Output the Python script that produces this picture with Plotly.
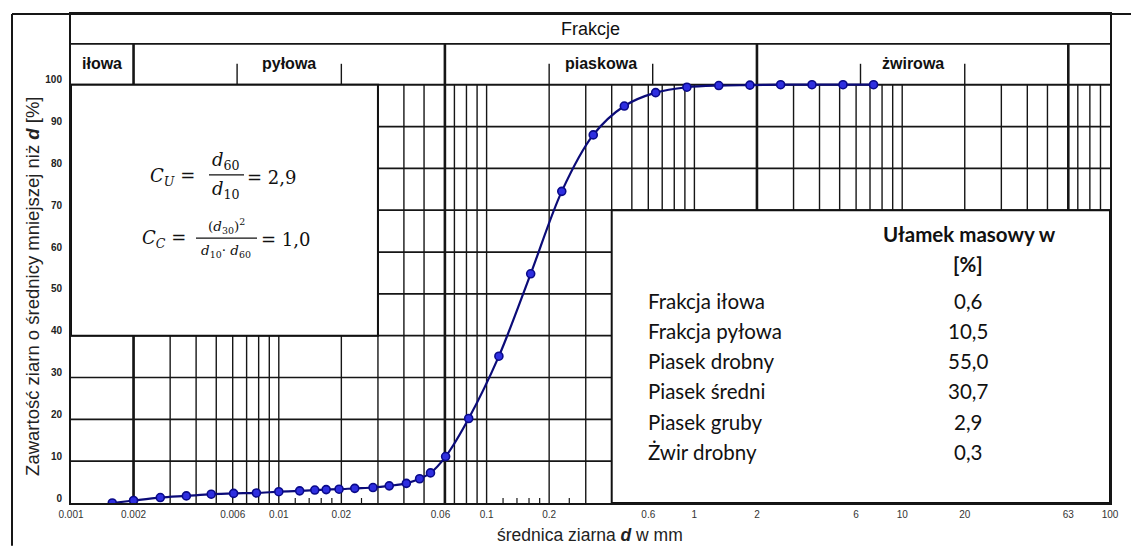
import math
import plotly.graph_objects as go

# Grain-size distribution (cumulative percent passing vs. grain diameter)
grain_d_mm = [0.00158, 0.002, 0.00269, 0.00359, 0.00473, 0.00606, 0.0078, 0.01,
              0.0126, 0.0149, 0.0169, 0.0195, 0.0232, 0.0284, 0.0340, 0.0411,
              0.0476, 0.0537, 0.0635, 0.082, 0.1146, 0.163, 0.230, 0.326,
              0.460, 0.651, 0.920, 1.31, 1.85, 2.60, 3.68, 5.19, 7.28]
passing_pct = [0.0, 0.6, 1.3, 1.7, 2.1, 2.3, 2.4, 2.7,
               2.9, 3.1, 3.2, 3.3, 3.5, 3.7, 4.1, 4.7,
               5.8, 7.2, 11.1, 20.2, 35.1, 54.8, 74.5, 88.0,
               94.9, 98.1, 99.4, 99.8, 99.9, 100.0, 100.0, 100.0, 100.0]

x_tick_vals = [0.001, 0.002, 0.006, 0.01, 0.02, 0.06, 0.1, 0.2, 0.6, 1, 2, 6, 10, 20, 63, 100]
x_tick_text = ["0.001", "0.002", "0.006", "0.01", "0.02", "0.06", "0.1", "0.2",
               "0.6", "1", "2", "6", "10", "20", "63", "100"]
y_tick_vals = [0, 10, 20, 30, 40, 50, 60, 70, 80, 90, 100]

# Fraction header
fraction_names = ["iłowa", "pyłowa", "piaskowa", "żwirowa"]
fraction_bounds = [0.002, 0.063, 2, 63]
subfraction_bounds = [0.0063, 0.02, 0.2, 0.63, 6.3, 20]
fraction_label_spans = [(0.001, 0.002), (0.0063, 0.02), (0.2, 0.63), (6.3, 20)]
minor_marks = [0.012, 0.014, 0.016, 0.018, 0.025, 0.12, 0.14, 0.16, 0.18, 0.25]

# Mass fractions table
table_rows = ["Frakcja iłowa", "Frakcja pyłowa", "Piasek drobny",
              "Piasek średni", "Piasek gruby", "Żwir drobny"]
table_values = ["0,6", "10,5", "55,0", "30,7", "2,9", "0,3"]

# ---------------------------------------------------------------- geometry
W, H = 1131, 546
ML, MR, MT, MB = 71, 21, 12, 43
PW, PH = W - ML - MR, H - MT - MB
PX_PER_PCT = 4.2
Y_TOP = PH / PX_PER_PCT          # header sits above the 100 % line
ROW_SPLIT = 100 + 41 / PX_PER_PCT
SUBTICK_TOP = 100 + 21 / PX_PER_PCT


def px(x):
    return (x - ML) / PW


def py(y):
    return (H - MB - y) / PH


INK = "#161616"
shapes = []


def vline(x, y0, y1, w=1.4, color=INK):
    shapes.append(dict(type="line", xref="x", yref="y", x0=x, x1=x, y0=y0, y1=y1,
                       line=dict(color=color, width=w), layer="below"))


def hline(y, x0=0.001, x1=100, w=1.6, color=INK):
    shapes.append(dict(type="line", xref="x", yref="y", x0=x0, x1=x1, y0=y, y1=y,
                       line=dict(color=color, width=w), layer="below"))


# logarithmic grid
for k in range(-3, 2):
    for m in range(1, 10):
        v = m * 10 ** k
        if m == 1 and k == -3:
            continue
        if abs(v - 0.06) < 1e-9 or abs(v - 60) < 1e-9:
            continue
        vline(v, 0, 100)
for b in fraction_bounds:
    vline(b, 0, ROW_SPLIT, w=2.6)
for v in y_tick_vals[1:-1]:
    hline(v, w=1.7)
hline(100, w=2)
hline(ROW_SPLIT, w=1.6)
for b in subfraction_bounds:
    vline(b, 100, SUBTICK_TOP, w=1.4)
for v in minor_marks:
    vline(v, 0, 5 / PX_PER_PCT, w=1.2)

# white boxes
box_line = dict(color="#111111", width=2)
shapes.append(dict(type="rect", xref="x", yref="y", x0=0.001, x1=0.03, y0=40, y1=100,
                   fillcolor="white", line=box_line, layer="below"))
shapes.append(dict(type="rect", xref="x", yref="y", x0=0.4, x1=100, y0=0, y1=70,
                   fillcolor="white", line=box_line, layer="below"))

# outer frame
shapes.append(dict(type="line", xref="paper", yref="paper", x0=px(12), x1=px(W), y0=1, y1=1,
                   line=dict(color=INK, width=2), layer="above"))
shapes.append(dict(type="line", xref="paper", yref="paper", x0=px(12), x1=px(12), y0=1, y1=py(H),
                   line=dict(color=INK, width=2), layer="above"))

# fraction bars of the formulas
shapes.append(dict(type="line", xref="paper", yref="paper", x0=px(209), x1=px(244),
                   y0=py(173.5), y1=py(173.5), line=dict(color="#111", width=1.3), layer="above"))
shapes.append(dict(type="line", xref="paper", yref="paper", x0=px(196), x1=px(257),
                   y0=py(237), y1=py(237), line=dict(color="#111", width=1.1), layer="above"))

annotations = []


def note(text, x, y, size, xanchor="center", family="Liberation Sans", color="#111", **kw):
    annotations.append(dict(text=text, xref="paper", yref="paper", x=px(x), y=py(y),
                            xanchor=xanchor, yanchor="middle", showarrow=False,
                            font=dict(family=family, size=size, color=color), **kw))


# header labels
annotations.append(dict(text="Frakcje", xref="paper", yref="y", x=0.5,
                        y=(ROW_SPLIT + Y_TOP) / 2, showarrow=False, yanchor="middle",
                        font=dict(family="Liberation Sans", size=18, color="#111")))
for name, (a, b) in zip(fraction_names, fraction_label_spans):
    annotations.append(dict(text=name, xref="x", yref="y",
                            x=(math.log10(a) + math.log10(b)) / 2,
                            y=(100 + ROW_SPLIT) / 2 + 0.1, showarrow=False, yanchor="middle",
                            font=dict(family="Liberation Sans", size=16, color="#111",
                                      weight=600)))

# axis titles
note("Zawartość ziarn o średnicy mniejszej niż <b><i>d</i></b> [%]", 33, 286, 18.5,
     textangle=-90, color="#222")
note("średnica ziarna <b><i>d</i></b> w mm", 590, 535, 17.5, color="#222")

# formulas
SERIF = "DejaVu Serif"
note("<i>C</i><sub><i>U</i></sub> =", 197, 176, 18, xanchor="right", family=SERIF)
note("<i>d</i><sub>60</sub>", 226, 160, 18, family=SERIF)
note("<i>d</i><sub>10</sub>", 226, 189, 18, family=SERIF)
note("= 2,9", 245, 176, 18, xanchor="left", family=SERIF)
note("<i>C</i><sub><i>C</i></sub> =", 188, 238, 18, xanchor="right", family=SERIF)
note("(<i>d</i><sub>30</sub>)<sup>2</sup>", 226, 225, 13.5, family=SERIF)
note("<i>d</i><sub>10</sub>· <i>d</i><sub>60</sub>", 226, 250, 13.5, family=SERIF)
note("= 1,0", 259, 238, 18, xanchor="left", family=SERIF)

# table
TABLE_FONT = "Lato"
note("<b>Ułamek masowy w</b>", 969, 233, 20.5, family=TABLE_FONT)
note("<b>[%]</b>", 968, 263, 20.5, family=TABLE_FONT)
for i, (label, val) in enumerate(zip(table_rows, table_values)):
    yy = 300 + i * 30.3
    note(label, 646, yy, 20.5, xanchor="left", family=TABLE_FONT)
    note(val, 968, yy, 20.5, family=TABLE_FONT)

fig = go.Figure()
fig.add_trace(go.Scatter(
    x=grain_d_mm, y=passing_pct, mode="lines+markers",
    line=dict(color="#0b0b78", width=2.2, shape="spline", smoothing=0.9),
    marker=dict(size=8, color="#2f2fe0", line=dict(color="#0a0a8a", width=1.6)),
    showlegend=False, hoverinfo="x+y",
))

fig.update_layout(
    width=W, height=H,
    margin=dict(l=ML, r=MR, t=MT, b=MB),
    paper_bgcolor="white", plot_bgcolor="white",
    shapes=shapes, annotations=annotations,
    xaxis=dict(type="log", range=[-3, 2], showgrid=False, zeroline=False,
               tickmode="array", tickvals=x_tick_vals, ticktext=x_tick_text,
               ticks="", showline=True, mirror=True, linecolor=INK, linewidth=2,
               tickfont=dict(family="Liberation Sans", size=10, color="#333"),
               ticklabelstandoff=1),
    yaxis=dict(range=[0, Y_TOP], showgrid=False, zeroline=False,
               tickmode="array", tickvals=y_tick_vals, ticks="",
               showline=True, mirror=True, linecolor=INK, linewidth=2,
               tickfont=dict(family="Liberation Sans", size=10, color="#222", weight="bold"),
               ticklabelshift=-5, ticklabelstandoff=5),
)

fig.write_html("out.html")
